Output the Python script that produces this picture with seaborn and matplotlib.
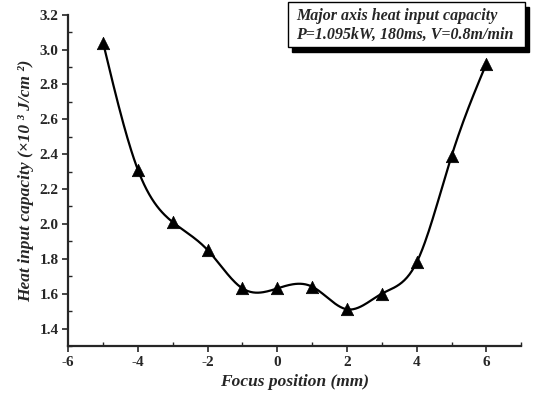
import numpy as np
import pandas as pd
import matplotlib
matplotlib.use("Agg")
import matplotlib.pyplot as plt
import seaborn as sns
from matplotlib.ticker import MultipleLocator
from matplotlib.patches import Rectangle

sns.set_style("ticks")
plt.rcParams['font.family'] = ['Liberation Serif', 'DejaVu Serif']

# --- data ---
focus_position = [-5, -4, -3, -2, -1, 0, 1, 2, 3, 4, 5, 6]
heat_input = [3.04, 2.31, 2.01, 1.85, 1.63, 1.63, 1.64, 1.51, 1.60, 1.78, 2.39, 2.92]

df = pd.DataFrame({"focus": focus_position, "heat": heat_input})


def natural_spline(x, y, n=300):
    # natural cubic spline through the measured points (for the smooth line)
    x = np.asarray(x, float)
    y = np.asarray(y, float)
    m = len(x)
    h = np.diff(x)
    A = np.zeros((m, m))
    b = np.zeros(m)
    A[0, 0] = A[-1, -1] = 1
    for i in range(1, m - 1):
        A[i, i - 1] = h[i - 1]
        A[i, i] = 2 * (h[i - 1] + h[i])
        A[i, i + 1] = h[i]
        b[i] = 3 * ((y[i + 1] - y[i]) / h[i] - (y[i] - y[i - 1]) / h[i - 1])
    c = np.linalg.solve(A, b)
    xs = np.linspace(x[0], x[-1], n)
    idx = np.clip(np.searchsorted(x, xs) - 1, 0, m - 2)
    dx = xs - x[idx]
    hi = h[idx]
    bb = (y[idx + 1] - y[idx]) / hi - hi * (2 * c[idx] + c[idx + 1]) / 3
    dd = (c[idx + 1] - c[idx]) / (3 * hi)
    ys = y[idx] + bb * dx + c[idx] * dx ** 2 + dd * dx ** 3
    return xs, ys


sx, sy = natural_spline(focus_position, heat_input)
curve = pd.DataFrame({"focus": sx, "heat": sy})

fig = plt.figure(figsize=(5.33, 3.99), dpi=100)
ax = fig.add_axes([0.128, 0.133, 0.850, 0.830])

sns.lineplot(data=curve, x="focus", y="heat", color="black", linewidth=1.6, ax=ax)
sns.scatterplot(data=df, x="focus", y="heat", marker="^", s=80, color="black",
                edgecolor="black", linewidth=0.5, zorder=3, ax=ax)

ax.set_xlim(-6, 7)
ax.set_ylim(1.3, 3.2)
ax.xaxis.set_minor_locator(MultipleLocator(1))
ax.yaxis.set_minor_locator(MultipleLocator(0.1))
yt = np.round(np.arange(1.4, 3.21, 0.2), 1)
ax.set_yticks(yt)
ax.set_yticklabels([f"{v:.1f}" for v in yt])
ax.set_xticks(range(-6, 7, 2))
ax.set_xticklabels([str(v) for v in range(-6, 7, 2)])

ax.tick_params(which="major", direction="out", length=4, width=1.2,
               labelsize=11, pad=3)
ax.tick_params(which="minor", direction="in", length=3, width=1.0)
for lab in ax.get_xticklabels() + ax.get_yticklabels():
    lab.set_fontweight("bold")

sns.despine(ax=ax)
for s in ("left", "bottom"):
    ax.spines[s].set_linewidth(1.6)

ax.set_xlabel("Focus position (mm)", fontsize=12.5, fontstyle="italic",
              fontweight="bold", labelpad=4)
ax.set_ylabel("Heat input capacity (×10 ³ J/cm ²)", fontsize=12.5,
              fontstyle="italic", fontweight="bold", labelpad=4)

# annotation box with drop shadow
shadow = Rectangle((0.548, 0.870), 0.445, 0.113, transform=fig.transFigure,
                   facecolor="black", edgecolor="black", zorder=5)
box = Rectangle((0.540, 0.882), 0.445, 0.113, transform=fig.transFigure,
                facecolor="white", edgecolor="black", linewidth=1.0, zorder=6)
fig.patches.extend([shadow, box])
fig.text(0.555, 0.960, "Major axis heat input capacity", fontsize=11.5,
         fontstyle="italic", fontweight="bold", va="center", zorder=7)
fig.text(0.555, 0.913, "P=1.095kW, 180ms, V=0.8m/min", fontsize=11.5,
         fontstyle="italic", fontweight="bold", va="center", zorder=7)

fig.savefig("out.png", dpi=100)
